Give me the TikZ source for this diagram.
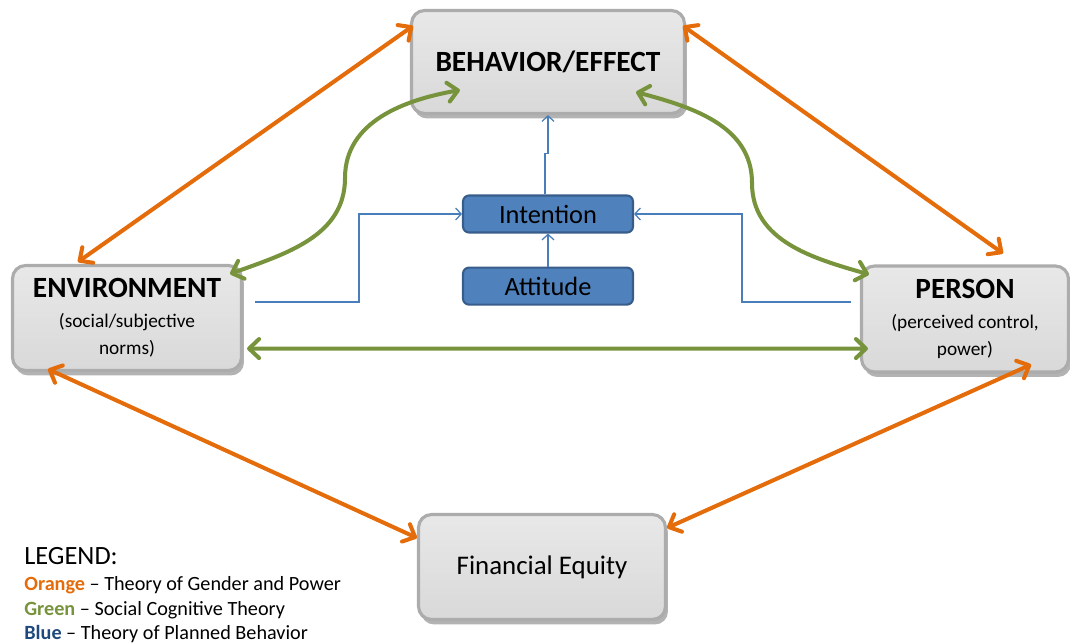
\documentclass[tikz,border=0pt]{standalone}
\usepackage{fontspec}
\setmainfont{Carlito}
\usetikzlibrary{arrows.meta,positioning,calc,shadows}

\definecolor{gporange}{RGB}{228,108,10}
\definecolor{scgreen}{RGB}{119,147,60}
\definecolor{tpbfill}{RGB}{79,129,189}
\definecolor{tpbedge}{RGB}{56,93,138}
\definecolor{tpbline}{RGB}{74,126,187}
\definecolor{tpbtext}{RGB}{31,73,125}

\newcommand{\headtxt}[1]{{\fontsize{16.7}{20}\selectfont\bfseries #1}}
\newcommand{\subtxt}[1]{{\fontsize{11}{15.4}\selectfont #1}}

\begin{document}
\begin{tikzpicture}[x=0.02cm,y=0.02cm,
    bevel/.style={rectangle,rounded corners=2.6mm,draw=gray!65,line width=1.8pt,
      top color=gray!18,bottom color=gray!30,align=center,inner sep=2pt,
      font=\fontsize{11}{15.4}\selectfont,
      drop shadow={shadow xshift=0.5mm,shadow yshift=-1mm,opacity=0.6}},
    tpbbox/.style={rectangle,rounded corners=1.2mm,draw=tpbedge,line width=1.2pt,
      fill=tpbfill,minimum width=3.4cm,minimum height=0.74cm,
      font=\fontsize{15}{18}\selectfont},
    barb/.tip={Straight Barb[length=2mm,width=3.8mm,round]},
    thin barb/.tip={Straight Barb[length=1.1mm,width=2.4mm]},
    gparr/.style={draw=gporange,line width=2.3pt,barb-barb},
    scarr/.style={draw=scgreen,line width=2.3pt,barb-barb},
    tpbarr/.style={draw=tpbline,line width=0.7pt,-thin barb},
    legtxt/.style={anchor=base west,inner sep=0pt,font=\fontsize{11.5}{14}\selectfont}
  ]
  \useasboundingbox (0,0) rectangle (1070,643);

  % the four outer factors
  \node[bevel,minimum width=5.46cm,minimum height=2.06cm] (beh) at (548,581)
    {\headtxt{BEHAVIOR/EFFECT}};
  \node[bevel,minimum width=4.58cm,minimum height=2.1cm] (env) at (127,325)
    {\headtxt{ENVIRONMENT}\\[1.5pt]\subtxt{(social/subjective}\\\subtxt{norms)}};
  \node[bevel,minimum width=4.14cm,minimum height=2.12cm] (per) at (965,324)
    {\headtxt{PERSON}\\[1.5pt]\subtxt{(perceived control,}\\\subtxt{power)}};
  \node[bevel,minimum width=4.94cm,minimum height=2.1cm,
    font=\fontsize{15.3}{18}\selectfont] (fe) at (542,76) {Financial Equity};

  % planned behaviour boxes
  \node[tpbbox] (intent) at (548,429) {Intention};
  \node[tpbbox,below=0.66cm of intent] (att) {Attitude};

  % bends of the green curves
  \coordinate (lbend) at (345,465);
  \coordinate (rbend) at (752,460);

  % orange: gender and power
  \draw[gparr] ($(env.north west)+(67,2)$) -- ($(beh.north west)+(3,-17)$);
  \draw[gparr] ($(beh.north east)+(-3,-17)$) -- ($(per.north)+(38,11)$);
  \draw[gparr] ($(env.south west)+(37,3)$) -- ($(fe.north west)+(0,-25)$);
  \draw[gparr] ($(per.south east)+(-39,9)$) -- ($(fe.north east)+(0,-15)$);

  % green: social cognitive
  \draw[scarr] ($(env.north east)+(-13,-10)$) to[out=20,in=-90] (lbend)
    to[out=90,in=190] ($(beh.south west)+(50,25)$);
  \draw[scarr] ($(beh.south east)+(-50,23)$) to[out=-15,in=90] (rbend)
    to[out=-90,in=164] ($(per.north west)+(9,-10)$);
  \draw[scarr] ($(env.south east)+(4,23.5)$) -- ($(per.south west)+(8,25)$);

  % blue: planned behaviour
  \draw[tpbarr] (att) -- (intent);
  \draw[tpbarr] ($(intent.north)+(-3,0)$) -- ++(0,41) -| (beh.south);
  \draw[tpbarr] ($(env.east)+(12,16)$) -- ++(104,0) |- (intent.west);
  \draw[tpbarr] ($(per.west)+(-9,17)$) -- ++(-109,0) |- (intent.east);

  % legend
  \node[legtxt,font=\fontsize{15}{18}\selectfont] (leghead) at (24,79) {LEGEND:};
  \node[legtxt] (legorange) at (24,53)
    {\textbf{\color{gporange}Orange} -- Theory of Gender and Power};
  \node[legtxt] (leggreen) at (24,28)
    {\textbf{\color{scgreen}Green} -- Social Cognitive Theory};
  \node[legtxt] (legblue) at (24,4)
    {\textbf{\color{tpbtext}Blue} -- Theory of Planned Behavior};
\end{tikzpicture}
\end{document}
